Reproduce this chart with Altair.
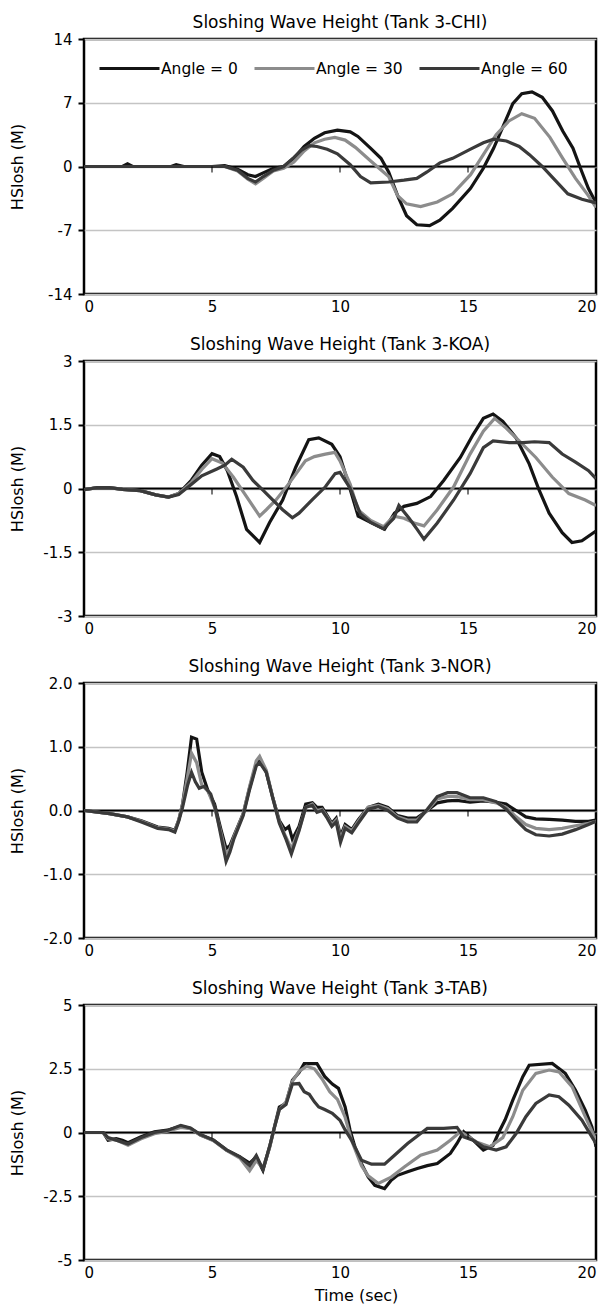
import altair as alt
import pandas as pd

FONT = "DejaVu Sans"
SERIES = ["Angle = 0", "Angle = 30", "Angle = 60"]
COLORS = ["#141414", "#8c8c8c", "#3a3a3a"]
X_TICKS = [0, 5, 10, 15, 20]
ZERO_TICKS = [5, 10, 15]

# ---------- Tank 3-CHI ----------
CHI_0 = [(0, 0), (1.5, 0), (1.7, 0.3), (1.9, 0), (3.4, 0), (3.6, 0.2), (3.9, 0), (5.0, 0), (5.5, 0.1),
         (6.0, -0.3), (6.4, -0.9), (6.7, -1.1), (7.0, -0.7), (7.4, -0.2), (7.8, 0.0), (8.2, 0.9), (8.6, 2.2),
         (9.0, 3.1), (9.4, 3.7), (9.9, 4.0), (10.4, 3.8), (10.7, 3.3), (11.2, 2.0), (11.6, 0.9), (11.9, -0.6),
         (12.25, -3.2), (12.6, -5.4), (13.0, -6.4), (13.5, -6.5), (13.9, -5.9), (14.4, -4.6), (15.1, -2.4),
         (15.6, -0.2), (16.0, 2.0), (16.4, 4.6), (16.75, 6.9), (17.1, 8.0), (17.5, 8.2), (17.9, 7.6),
         (18.3, 6.1), (18.7, 3.9), (19.1, 2.0), (19.45, -0.6), (19.7, -2.4), (20.0, -4.0)]
CHI_30 = [(0, 0), (5.0, 0), (5.5, 0), (6.0, -0.5), (6.4, -1.4), (6.7, -1.9), (7.0, -1.3), (7.4, -0.5),
          (7.8, -0.2), (8.2, 0.5), (8.6, 1.7), (9.0, 2.6), (9.4, 3.0), (9.8, 3.2), (10.2, 2.9), (10.6, 2.1),
          (11.2, 0.6), (11.9, -1.1), (12.25, -3.2), (12.6, -4.1), (13.15, -4.4), (13.8, -3.9), (14.4, -3.0),
          (15.1, -0.9), (15.6, 1.3), (16.1, 3.5), (16.6, 5.0), (17.1, 5.8), (17.6, 5.3), (18.2, 3.2),
          (18.7, 0.9), (19.2, -1.3), (19.7, -3.2), (20.0, -4.5)]
CHI_60 = [(0, 0), (5.0, 0), (5.5, 0), (6.0, -0.4), (6.4, -1.3), (6.7, -1.7), (7.0, -1.1), (7.4, -0.4),
          (7.8, 0.0), (8.2, 1.0), (8.5, 1.8), (8.8, 2.3), (9.1, 2.2), (9.5, 1.9), (9.9, 1.4), (10.4, 0.2),
          (10.8, -1.1), (11.2, -1.8), (11.9, -1.7), (12.5, -1.5), (13.0, -1.3), (13.4, -0.6), (13.9, 0.4),
          (14.4, 0.9), (15.1, 1.9), (15.6, 2.6), (16.0, 3.0), (16.5, 2.8), (17.0, 2.2), (17.4, 1.3),
          (17.9, 0.0), (18.4, -1.5), (18.9, -3.0), (19.45, -3.6), (20.0, -4.0)]

# ---------- Tank 3-KOA ----------
KOA_0 = [(0, -0.03), (0.5, 0.02), (1.0, 0.02), (1.5, -0.02), (2.2, -0.05), (2.8, -0.15), (3.3, -0.2),
         (3.7, -0.12), (4.2, 0.2), (4.6, 0.55), (5.0, 0.82), (5.3, 0.75), (5.6, 0.42), (5.96, -0.19),
         (6.35, -0.96), (6.86, -1.27), (7.25, -0.8), (7.76, -0.27), (8.27, 0.5), (8.78, 1.15), (9.17, 1.19),
         (9.68, 1.04), (10.0, 0.75), (10.33, 0.12), (10.71, -0.65), (11.23, -0.81), (11.74, -0.96),
         (12.13, -0.58), (12.5, -0.42), (13.0, -0.35), (13.54, -0.19), (14.05, 0.19), (14.7, 0.73),
         (15.2, 1.27), (15.6, 1.65), (15.98, 1.75), (16.36, 1.58), (16.88, 1.19), (17.39, 0.58),
         (17.78, -0.04), (18.17, -0.58), (18.68, -1.04), (19.06, -1.27), (19.45, -1.23), (19.9, -1.04),
         (20.0, -1.0)]
KOA_30 = [(0, -0.03), (0.5, 0.02), (1.0, 0.02), (1.5, -0.02), (2.2, -0.05), (2.8, -0.15), (3.3, -0.2),
          (3.7, -0.12), (4.2, 0.15), (4.6, 0.45), (5.0, 0.7), (5.4, 0.6), (5.83, 0.27), (6.35, -0.19),
          (6.86, -0.65), (7.12, -0.5), (7.5, -0.27), (8.01, 0.12), (8.65, 0.65), (9.0, 0.75), (9.43, 0.81),
          (9.8, 0.85), (10.0, 0.65), (10.4, 0.1), (10.7, -0.5), (11.2, -0.75), (11.7, -0.9), (12.1, -0.65),
          (12.5, -0.7), (12.9, -0.81), (13.28, -0.88), (13.8, -0.5), (14.44, 0.04), (15.08, 0.81),
          (15.6, 1.35), (16.04, 1.65), (16.49, 1.42), (17.0, 1.12), (17.65, 0.73), (18.29, 0.27),
          (18.94, -0.12), (19.58, -0.27), (20.0, -0.4)]
KOA_60 = [(0, -0.03), (0.5, 0.02), (1.0, 0.02), (1.5, -0.02), (2.2, -0.05), (2.8, -0.15), (3.3, -0.2),
          (3.7, -0.14), (4.2, 0.1), (4.6, 0.3), (5.19, 0.46), (5.5, 0.55), (5.77, 0.69), (6.22, 0.5),
          (6.6, 0.19), (6.99, -0.04), (7.37, -0.27), (7.76, -0.5), (8.14, -0.69), (8.4, -0.58), (8.91, -0.27),
          (9.43, 0.04), (9.81, 0.35), (10.0, 0.38), (10.4, 0.0), (10.8, -0.6), (11.2, -0.8), (11.7, -0.95),
          (12.1, -0.7), (12.3, -0.4), (12.7, -0.7), (13.0, -0.95), (13.28, -1.19), (13.8, -0.81),
          (14.44, -0.27), (15.08, 0.35), (15.6, 0.96), (15.98, 1.12), (16.62, 1.08), (17.14, 1.08),
          (17.6, 1.1), (18.17, 1.08), (18.68, 0.81), (19.2, 0.62), (19.71, 0.42), (20.0, 0.23)]

# ---------- Tank 3-NOR ----------
NOR_0 = [(0, 0), (1.0, -0.05), (1.7, -0.1), (2.24, -0.16), (2.88, -0.26), (3.3, -0.28), (3.55, -0.31),
         (3.7, -0.15), (3.85, 0.1), (4.03, 0.6), (4.2, 1.15), (4.4, 1.12), (4.6, 0.6), (4.85, 0.3),
         (5.1, 0.1), (5.35, -0.3), (5.55, -0.6), (5.7, -0.55), (5.85, -0.4), (6.22, -0.05), (6.47, 0.36),
         (6.73, 0.73), (6.86, 0.8), (7.12, 0.6), (7.37, 0.21), (7.63, -0.16), (7.85, -0.3), (8.0, -0.25),
         (8.14, -0.45), (8.4, -0.25), (8.66, 0.1), (8.92, 0.12), (9.1, 0.05), (9.3, 0.05), (9.5, -0.08),
         (9.68, -0.2), (9.85, -0.12), (10.02, -0.4), (10.2, -0.22), (10.46, -0.3), (10.71, -0.15),
         (11.1, 0.05), (11.5, 0.1), (11.87, 0.05), (12.25, -0.08), (12.64, -0.12), (13.0, -0.12),
         (13.41, 0.0), (13.8, 0.12), (14.2, 0.15), (14.57, 0.16), (15.08, 0.13), (15.6, 0.15), (16.1, 0.13),
         (16.49, 0.1), (16.88, 0.0), (17.26, -0.1), (17.65, -0.13), (18.17, -0.14), (18.68, -0.15),
         (19.2, -0.17), (19.71, -0.17), (20.0, -0.15)]
NOR_30 = [(0, 0), (1.0, -0.05), (1.7, -0.1), (2.24, -0.17), (2.88, -0.27), (3.3, -0.29), (3.55, -0.32),
          (3.7, -0.15), (3.85, 0.1), (4.03, 0.5), (4.2, 0.9), (4.4, 0.75), (4.6, 0.4), (4.85, 0.3),
          (5.1, 0.05), (5.35, -0.35), (5.55, -0.7), (5.7, -0.6), (5.85, -0.42), (6.22, -0.05), (6.47, 0.38),
          (6.73, 0.78), (6.86, 0.85), (7.12, 0.63), (7.37, 0.21), (7.63, -0.18), (7.89, -0.42), (8.1, -0.6),
          (8.4, -0.3), (8.66, 0.05), (8.92, 0.1), (9.1, 0.0), (9.3, 0.02), (9.5, -0.1), (9.68, -0.22),
          (9.85, -0.15), (10.02, -0.45), (10.2, -0.25), (10.46, -0.32), (10.71, -0.17), (11.1, 0.05),
          (11.5, 0.08), (11.87, 0.03), (12.25, -0.1), (12.64, -0.15), (13.0, -0.15), (13.41, 0.0),
          (13.8, 0.18), (14.2, 0.22), (14.57, 0.22), (15.08, 0.17), (15.6, 0.17), (16.1, 0.12), (16.49, 0.05),
          (16.88, -0.1), (17.26, -0.22), (17.65, -0.28), (18.17, -0.3), (18.68, -0.28), (19.2, -0.24),
          (19.71, -0.2), (20.0, -0.17)]
NOR_60 = [(0, 0), (1.0, -0.05), (1.7, -0.1), (2.24, -0.18), (2.88, -0.28), (3.3, -0.3), (3.55, -0.34),
          (3.7, -0.17), (3.85, 0.05), (4.05, 0.4), (4.2, 0.6), (4.35, 0.45), (4.5, 0.35), (4.7, 0.38),
          (4.95, 0.26), (5.15, 0.0), (5.35, -0.4), (5.55, -0.8), (5.7, -0.65), (5.85, -0.45), (6.22, -0.08),
          (6.47, 0.33), (6.73, 0.7), (6.86, 0.75), (7.12, 0.6), (7.37, 0.2), (7.63, -0.2), (7.89, -0.45),
          (8.1, -0.68), (8.4, -0.32), (8.66, 0.05), (8.92, 0.08), (9.1, -0.03), (9.3, 0.0), (9.5, -0.12),
          (9.68, -0.25), (9.85, -0.18), (10.02, -0.5), (10.2, -0.28), (10.46, -0.35), (10.71, -0.2),
          (11.1, 0.02), (11.5, 0.06), (11.87, 0.0), (12.25, -0.12), (12.64, -0.18), (13.0, -0.18),
          (13.41, 0.02), (13.8, 0.22), (14.2, 0.28), (14.57, 0.28), (15.08, 0.2), (15.6, 0.2), (16.1, 0.14),
          (16.49, 0.02), (16.88, -0.15), (17.26, -0.3), (17.65, -0.38), (18.17, -0.4), (18.68, -0.37),
          (19.2, -0.3), (19.71, -0.22), (20.0, -0.17)]

# ---------- Tank 3-TAB ----------
TAB_0 = [(0, 0), (0.75, 0), (0.94, -0.3), (1.26, -0.24), (1.5, -0.3), (1.72, -0.4), (2.23, -0.17),
         (2.75, 0.03), (3.26, 0.09), (3.78, 0.25), (4.16, 0.16), (4.55, -0.1), (5.06, -0.3), (5.57, -0.69),
         (6.09, -0.96), (6.47, -1.2), (6.73, -0.96), (6.99, -1.48), (7.25, -0.56), (7.44, 0.22), (7.63, 1.0),
         (7.89, 1.14), (8.14, 2.05), (8.4, 2.35), (8.6, 2.7), (9.1, 2.7), (9.4, 2.2), (9.7, 1.9), (9.94, 1.73),
         (10.2, 1.0), (10.39, 0.1), (10.58, -0.56), (10.84, -1.22), (11.1, -1.74), (11.36, -2.07),
         (11.74, -2.2), (12.0, -1.87), (12.25, -1.68), (12.64, -1.54), (13.02, -1.41), (13.41, -1.3),
         (13.8, -1.22), (14.31, -0.82), (14.57, -0.43), (14.83, 0.03), (15.2, -0.3), (15.6, -0.69),
         (15.98, -0.5), (16.2, 0.0), (16.45, 0.5), (16.75, 1.27), (17.14, 2.19), (17.39, 2.64), (18.29, 2.71),
         (18.8, 2.32), (19.2, 1.66), (19.58, 0.88), (19.84, 0.22), (20.0, -0.56)]
TAB_30 = [(0, 0), (0.75, 0), (0.94, -0.25), (1.26, -0.3), (1.72, -0.5), (2.23, -0.25), (2.75, -0.05),
          (3.26, 0.05), (3.78, 0.2), (4.16, 0.15), (4.55, -0.1), (5.06, -0.32), (5.57, -0.7), (6.09, -1.0),
          (6.47, -1.5), (6.73, -1.1), (6.99, -1.4), (7.25, -0.6), (7.44, 0.2), (7.63, 0.9), (7.89, 1.2),
          (8.14, 2.0), (8.4, 2.4), (8.7, 2.6), (9.0, 2.5), (9.3, 2.1), (9.6, 1.6), (9.9, 1.3), (10.2, 0.6),
          (10.45, -0.3), (10.84, -1.3), (11.1, -1.7), (11.5, -2.0), (12.0, -1.75), (12.51, -1.35),
          (13.15, -0.89), (13.8, -0.69), (14.31, -0.3), (14.7, 0.03), (15.33, -0.37), (15.85, -0.56),
          (16.36, -0.2), (16.75, 0.62), (17.14, 1.66), (17.65, 2.32), (18.17, 2.45), (18.55, 2.38),
          (19.07, 1.79), (19.58, 0.62), (20.0, -0.3)]
TAB_60 = [(0, 0), (0.75, 0), (0.94, -0.2), (1.26, -0.3), (1.72, -0.45), (2.23, -0.2), (2.75, 0.0),
          (3.26, 0.08), (3.78, 0.28), (4.16, 0.18), (4.55, -0.08), (5.06, -0.3), (5.57, -0.68), (6.09, -0.95),
          (6.47, -1.3), (6.73, -0.9), (6.99, -1.45), (7.25, -0.55), (7.44, 0.2), (7.63, 0.9), (7.89, 1.1),
          (8.14, 1.9), (8.4, 1.92), (8.6, 1.6), (8.8, 1.5), (9.0, 1.2), (9.17, 1.0), (9.4, 0.9), (9.7, 0.75),
          (10.0, 0.48), (10.2, 0.1), (10.45, -0.3), (10.84, -1.09), (11.23, -1.24), (11.74, -1.24),
          (12.13, -0.89), (12.64, -0.43), (13.15, -0.04), (13.41, 0.16), (14.05, 0.16), (14.57, 0.2),
          (14.83, -0.17), (15.2, -0.3), (15.6, -0.56), (16.1, -0.69), (16.49, -0.56), (16.88, -0.04),
          (17.26, 0.62), (17.65, 1.14), (18.17, 1.47), (18.55, 1.4), (18.94, 1.07), (19.45, 0.48),
          (19.84, -0.17), (20.0, -0.43)]

PANELS = [
    ("Sloshing Wave Height (Tank 3-CHI)", [-14, -7, 0, 7, 14], False, [CHI_0, CHI_30, CHI_60]),
    ("Sloshing Wave Height (Tank 3-KOA)", [-3, -1.5, 0, 1.5, 3], False, [KOA_0, KOA_30, KOA_60]),
    ("Sloshing Wave Height (Tank 3-NOR)", [-2, -1, 0, 1, 2], True, [NOR_0, NOR_30, NOR_60]),
    ("Sloshing Wave Height (Tank 3-TAB)", [-5, -2.5, 0, 2.5, 5], False, [TAB_0, TAB_30, TAB_60]),
]

W, H = 512, 255


def make_panel(title, ticks, one_decimal, series_data, last):
    rows = []
    for name, pts in zip(SERIES, series_data):
        for t, v in pts:
            rows.append({"t": t, "v": v, "series": name})
    df = pd.DataFrame(rows)
    if one_decimal:
        lab = "(datum.value < 0 ? '-' : '') + format(abs(datum.value), '.1f')"
    else:
        lab = "(datum.value < 0 ? '-' : '') + abs(datum.value)"

    xaxis = dict(values=X_TICKS, ticks=False, grid=False, domain=False, labelPadding=5, format="d")
    if last:
        xaxis.update(title="Time (sec)", titleX=272, titleY=40, titleBaseline="alphabetic",
                     titleFontSize=16, titleFont=FONT, titleFontWeight="normal", titleColor="black")
    else:
        xaxis.update(title=None)
    x = alt.X("t:Q", scale=alt.Scale(domain=[0, 20], nice=False, zero=False), axis=alt.Axis(**xaxis))
    y = alt.Y("v:Q", scale=alt.Scale(domain=[ticks[0], ticks[-1]], nice=False, zero=False),
              axis=alt.Axis(values=ticks, labelExpr=lab, title="HSlosh (M)", titleX=-62, titleY=H / 2,
                            titleBaseline="alphabetic", titleFontSize=16, titleFont=FONT,
                            titleFontWeight="normal", titleColor="black", tickSize=6, tickWidth=2,
                            tickColor="black", labelPadding=6, grid=True, domain=False))

    zero = alt.Chart(pd.DataFrame({"v": [0]})).mark_rule(color="black", strokeWidth=2).encode(y="v:Q")
    zt = alt.Chart(pd.DataFrame({"t": ZERO_TICKS, "v": [0] * len(ZERO_TICKS)})).mark_tick(
        orient="vertical", size=6, thickness=1.5, color="black", yOffset=3).encode(x="t:Q", y="v:Q")
    lines = alt.Chart(df).mark_line(strokeWidth=3.2, clip=True).encode(
        x=x, y=y,
        color=alt.Color("series:N", scale=alt.Scale(domain=SERIES, range=COLORS),
                        legend=alt.Legend(orient="none", legendX=14, legendY=-2, direction="horizontal",
                                          title=None, symbolType="stroke", symbolSize=3600,
                                          symbolStrokeWidth=3, labelFontSize=15.5, labelFont=FONT,
                                          labelColor="black", columnPadding=10, labelOffset=0, padding=0)),
        order=alt.Order("t:Q"),
    )
    return alt.layer(zero, lines, zt).properties(
        width=W, height=H,
        title=alt.TitleParams(title, fontSize=17, font=FONT, fontWeight="normal", color="black",
                              offset=0, anchor="middle"),
    )


panels = [make_panel(t, tk, od, sd, i == len(PANELS) - 1) for i, (t, tk, od, sd) in enumerate(PANELS)]

chart = alt.vconcat(*panels, spacing=18).properties(
    padding={"left": 7, "top": 12, "right": 0, "bottom": 0}, background="white"
).configure_view(stroke="black", strokeWidth=2.5).configure_axis(
    labelFont=FONT, labelFontSize=15, labelColor="black", gridColor="#c4c4c4", gridWidth=1.5
)

chart.save("out.html", embed_options={"renderer": "svg", "actions": False})
